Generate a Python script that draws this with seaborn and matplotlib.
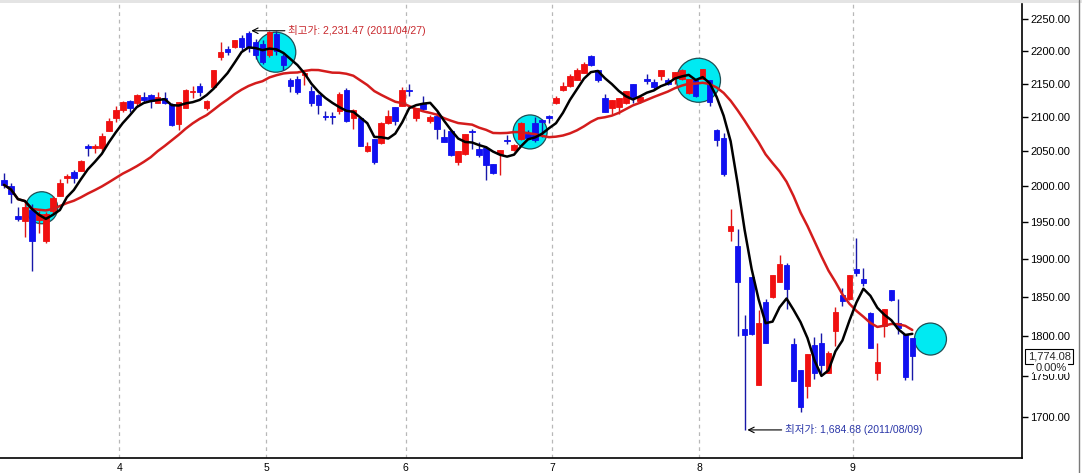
import numpy as np
import pandas as pd
import matplotlib
matplotlib.use("Agg")
import matplotlib.pyplot as plt
import matplotlib.transforms as mtransforms
from matplotlib.ticker import NullLocator
from matplotlib.lines import Line2D
from matplotlib.patches import Rectangle
import seaborn as sns

# daily candles, 2011-03 .. 2011-09
opens = [2009, 2000, 1958, 1952, 1967, 1953, 1924, 1965, 1987, 2011,
         2020, 2022, 2058, 2055, 2054, 2080, 2099, 2110, 2124, 2121,
         2130, 2133, 2121, 2128, 2119, 2089, 2114, 2137, 2147, 2113,
         2145, 2191, 2203, 2206, 2220, 2228, 2214, 2211, 2193, 2226,
         2192, 2155, 2157, 2163, 2139, 2133, 2102, 2102, 2109, 2141,
         2098, 2098, 2051, 2068, 2062, 2091, 2115, 2117, 2141, 2098,
         2121, 2094, 2101, 2070, 2080, 2034, 2046, 2080, 2053, 2055,
         2032, 2046, 2066, 2052, 2067, 2075, 2091, 2096, 2101, 2121,
         2141, 2147, 2155, 2166, 2192, 2170, 2128, 2113, 2115, 2121,
         2150, 2124, 2157, 2153, 2162, 2156, 2159, 2157, 2136, 2155,
         2157, 2155, 2081, 2069, 1938, 1917, 1809, 1876, 1739, 1844,
         1850, 1869, 1892, 1790, 1757, 1737, 1789, 1791, 1753, 1806,
         1852, 1847, 1887, 1873, 1829, 1753, 1812, 1859, 1816, 1803,
         1797]
highs = [2019, 2004, 1971, 1981, 1975, 1966, 1964, 1987, 2010, 2018,
         2023, 2037, 2061, 2061, 2076, 2098, 2117, 2124, 2126, 2135,
         2138, 2135, 2137, 2137, 2121, 2122, 2142, 2147, 2151, 2126,
         2171, 2214, 2207, 2217, 2225, 2231.47, 2218, 2217, 2231, 2231,
         2195, 2158, 2162, 2168, 2146, 2135, 2109, 2107, 2137, 2143,
         2112, 2099, 2063, 2068, 2093, 2110, 2115, 2145, 2150, 2113,
         2131, 2103, 2107, 2082, 2080, 2051, 2075, 2082, 2063, 2058,
         2032, 2052, 2074, 2060, 2092, 2081, 2100, 2097, 2103, 2131,
         2152, 2164, 2173, 2183, 2193, 2171, 2134, 2126, 2128, 2139,
         2150, 2133, 2165, 2157, 2171, 2159, 2168, 2172, 2157, 2157,
         2172, 2155, 2083, 2076, 1968, 1941, 1827, 1876, 1833, 1848,
         1879, 1906, 1895, 1797, 1757, 1777, 1798, 1804, 1781, 1837,
         1862, 1879, 1928, 1888, 1830, 1791, 1834, 1859, 1848, 1803,
         1797]
lows = [1998, 1976, 1951, 1930, 1884, 1935, 1922, 1963, 1987, 2004,
        2005, 2022, 2043, 2047, 2051, 2080, 2093, 2107, 2107, 2116,
        2121, 2114, 2121, 2119, 2086, 2081, 2114, 2129, 2131, 2111,
        2143, 2186, 2193, 2205, 2200, 2198, 2188, 2180, 2190, 2193,
        2171, 2137, 2134, 2148, 2116, 2104, 2095, 2090, 2105, 2093,
        2083, 2057, 2049, 2032, 2060, 2090, 2088, 2117, 2131, 2094,
        2109, 2091, 2068, 2063, 2043, 2030, 2045, 2053, 2041, 2009,
        2018, 2016, 2061, 2051, 2066, 2068, 2064, 2070, 2091, 2120,
        2139, 2145, 2155, 2166, 2177, 2152, 2107, 2105, 2105, 2119,
        2121, 2121, 2150, 2141, 2155, 2148, 2150, 2155, 2134, 2130,
        2157, 2116, 2057, 2015, 1925, 1800, 1684.68, 1801, 1739, 1791,
        1849, 1869, 1834, 1744, 1706, 1723, 1746, 1753, 1753, 1787,
        1838, 1846, 1877, 1865, 1785, 1745, 1799, 1845, 1803, 1745,
        1745]
closes = [2002, 1989, 1955, 1971, 1925, 1961, 1961, 1983, 2004, 2014,
          2012, 2036, 2054, 2057, 2072, 2094, 2110, 2122, 2114, 2133,
          2125, 2124, 2130, 2121, 2088, 2122, 2140, 2139, 2138, 2124,
          2170, 2199, 2199, 2217, 2206, 2206, 2194, 2183, 2229, 2200,
          2178, 2147, 2137, 2166, 2121, 2118, 2100, 2100, 2134, 2094,
          2110, 2058, 2058, 2034, 2091, 2101, 2094, 2141, 2139, 2113,
          2112, 2100, 2082, 2064, 2045, 2051, 2075, 2078, 2045, 2030,
          2019, 2052, 2065, 2059, 2091, 2069, 2066, 2092, 2099, 2128,
          2146, 2162, 2171, 2180, 2178, 2155, 2107, 2126, 2128, 2139,
          2130, 2130, 2154, 2145, 2171, 2150, 2168, 2170, 2157, 2132,
          2172, 2122, 2066, 2017, 1945, 1869, 1801, 1803, 1817, 1791,
          1879, 1893, 1860, 1744, 1712, 1777, 1753, 1764, 1778, 1831,
          1845, 1879, 1881, 1868, 1785, 1767, 1834, 1846, 1810, 1749,
          1774.08]

month_labels = ["4", "5", "6", "7", "8", "9"]
month_start_idx = [17, 38, 58, 79, 100, 122]
ytick_values = [1700, 1750, 1800, 1850, 1900, 1950, 2000, 2050, 2100, 2150, 2200, 2250]

high_label = "최고가: 2,231.47 (2011/04/27)"
low_label = "최저가: 1,684.68 (2011/08/09)"
high_idx, high_val = 35, 2231.47
low_idx, low_val = 106, 1684.68
last_close = 1774.08
last_change = "0.00%"

# crossing markers (cyan circles)
cross_idx = [5.4, 38.9, 75.3, 99.4, 132.6]
cross_price = [1970, 2198, 2078, 2155, 1796]
circle_r_px = [16, 20, 17, 22, 16]

df = pd.DataFrame({"open": opens, "high": highs, "low": lows, "close": closes})
df["idx"] = np.arange(len(df))
df["ma5"] = df["close"].rolling(5, min_periods=1).mean()
df["ma20"] = df["close"].rolling(20, min_periods=1).mean()

sns.set_style("white")
plt.rcParams["font.family"] = ["Liberation Sans", "Noto Sans CJK KR"]

W, H = 1082, 473
fig = plt.figure(figsize=(W / 100, H / 100), dpi=100)
ax = fig.add_axes([0, 15 / H, 1022 / W, 454 / H])
ax.set_yscale("log")
ax.set_ylim(1651.7, 2273.9)
ax.set_xlim(-0.57, 145.7)

# circles behind everything
sizes = [(2 * r * 0.72) ** 2 for r in circle_r_px]
ax.scatter(cross_idx, cross_price, s=sizes, color="#00eaf2",
           edgecolor="#1d4f55", linewidth=0.9, zorder=1)

up = df["close"] >= df["open"]
col = np.where(up, "#f01010", "#1010f0")
wick_col = np.where(up, "#e01818", "#1818a8")
ax.vlines(df["idx"], df["low"], df["high"], colors=wick_col, linewidth=1.0, zorder=2)
body_lo = df[["open", "close"]].min(axis=1)
body_h = (df["close"] - df["open"]).abs()
ax.bar(df["idx"], body_h, bottom=body_lo, width=0.8, color=col,
       edgecolor=col, linewidth=0.6, zorder=3)

sns.lineplot(data=df, x="idx", y="ma20", color="#d41c1c", linewidth=1.8, ax=ax, zorder=4)
sns.lineplot(data=df, x="idx", y="ma5", color="black", linewidth=1.8, ax=ax, zorder=5)

# high / low annotations
ax.annotate("", xy=(high_idx, high_val), xytext=(high_idx + 5.6, high_val),
            arrowprops=dict(arrowstyle="->", color="black", lw=0.8), zorder=6)
ax.text(high_idx + 5.7, high_val, high_label, color="#c8282d", fontsize=7.6,
        va="center", ha="left", zorder=6)
ax.vlines(low_idx, low_val, df["low"][low_idx], colors="#1818a8", linewidth=1.0)
ax.annotate("", xy=(low_idx, low_val), xytext=(low_idx + 5.7, low_val),
            arrowprops=dict(arrowstyle="->", color="black", lw=0.8), zorder=6)
ax.text(low_idx + 5.8, low_val, low_label, color="#2a36a8", fontsize=7.6,
        va="center", ha="left", zorder=6)

# axes styling
ax.set_xlabel("")
ax.set_ylabel("")
ax.yaxis.tick_right()
ax.yaxis.set_minor_locator(NullLocator())
ax.set_yticks(ytick_values)
ax.set_yticklabels([f"{v:.2f}" for v in ytick_values])
ax.set_xticks([m - 0.5 for m in month_start_idx])
ax.set_xticklabels(month_labels)
ax.tick_params(axis="y", direction="out", length=4, width=1, pad=2,
               labelsize=8, colors="black")
ax.tick_params(axis="x", direction="out", length=3, width=1, pad=0.5,
               labelsize=7.5, colors="black")
ax.xaxis.grid(True, linestyle=(0, (3, 3)), color="#b8b8b8", linewidth=0.9)
ax.yaxis.grid(False)
for s in ["left", "top"]:
    ax.spines[s].set_visible(False)
for s in ["right", "bottom"]:
    ax.spines[s].set_color("black")
    ax.spines[s].set_linewidth(1.2)

# last price box
trans = mtransforms.blended_transform_factory(ax.transAxes, ax.transData)
ax.text(1.0055, last_close, f"{last_close:,.2f}", transform=trans, fontsize=8,
        va="center", ha="left", zorder=7,
        bbox=dict(boxstyle="square,pad=0.2", facecolor="white", edgecolor="black", linewidth=0.8))
ax.text(1.0135, 1766, last_change, transform=trans, fontsize=8, va="top", ha="left",
        zorder=7, bbox=dict(boxstyle="square,pad=0.12", facecolor="white", edgecolor="none"))

# frame bits
fig.patches.append(Rectangle((0, 1 - 3 / H), 1, 3 / H, transform=fig.transFigure,
                             facecolor="#e4e4e4", edgecolor="none"))
fig.add_artist(Line2D([1079 / W, 1079 / W], [0, 1], transform=fig.transFigure,
                      color="#7a7a7a", linewidth=1.0))

fig.savefig("out.png", dpi=100)
